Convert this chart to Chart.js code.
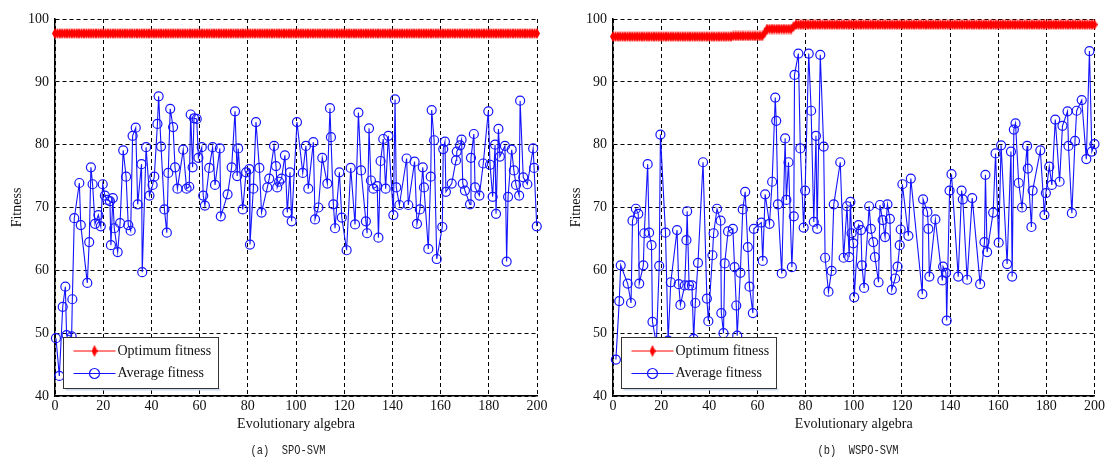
<!DOCTYPE html>
<html><head><meta charset="utf-8">
<script src="https://cdn.jsdelivr.net/npm/chart.js@4.4.0/dist/chart.umd.min.js"></script>
<style>
html,body{margin:0;padding:0;background:#fff;}
#wrap{position:relative;width:1107px;height:457px;overflow:hidden;background:#fff;}
canvas{position:absolute;top:0;}
.cap{position:absolute;top:442px;font-family:"Liberation Mono",monospace;font-size:13px;line-height:17px;white-space:pre;color:#222;transform:translateX(-50%) scaleX(0.8);}
</style></head><body>
<div id="wrap">
<canvas id="cA" width="550" height="457" style="left:0"></canvas>
<canvas id="cB" width="552" height="457" style="left:555px"></canvas>
<div class="cap" style="left:288px">(a)  SPO-SVM</div>
<div class="cap" style="left:858px">(b)  WSPO-SVM</div>
</div>
<script>
// ---- chart (a) SPO-SVM ----
const gensA = [0.4,1.8,3.2,4.3,4.8,6.9,7.2,8.0,10.1,10.7,13.4,14.2,14.9,15.6,16.6,18.0,19.0,19.8,20.7,21.7,
22.8,23.2,24.0,24.6,26.0,27.0,28.3,29.5,30.4,31.4,32.2,33.5,34.3,35.9,36.2,37.8,39.2,40.5,41.2,42.5,
43.0,44.0,45.4,46.4,47.0,47.8,49.0,49.8,50.8,53.2,54.6,55.7,56.3,57.1,57.7,58.8,59.5,60.9,61.5,62.2,
64.0,65.4,66.4,68.4,68.8,71.6,73.3,74.7,75.6,76.0,77.9,79.3,80.6,80.9,82.3,83.4,84.8,85.7,88.1,88.9,
90.9,91.7,92.2,93.0,94.0,95.4,96.4,97.5,98.2,100.4,102.8,104.1,105.1,107.2,107.9,109.3,110.9,113.0,114.1,114.5,
115.5,116.2,118.0,119.0,121.0,122.7,124.5,125.9,127.0,129.0,129.5,130.3,131.1,132.1,133.7,134.2,135.1,136.2,137.2,138.3,
140.4,141.1,141.6,142.9,145.9,146.6,149.2,150.2,151.4,152.6,153.1,154.9,155.9,156.3,157.3,158.4,160.7,161.1,161.8,162.2,
164.6,166.4,166.7,168.1,168.7,169.2,170.1,172.2,172.6,173.8,174.3,176.1,177.7,179.8,180.5,181.6,182.6,183.0,184.0,184.6,
186.7,187.4,188.0,189.5,190.4,191.3,192.6,193.0,194.3,196.0,198.4,198.8,199.9];
const avgA = [49.2,43.2,54.2,57.4,49.7,49.5,55.4,68.3,73.9,67.2,58.0,64.5,76.4,73.7,67.4,68.8,67.0,73.7,71.9,71.2,
71.0,64.0,71.5,66.7,62.9,67.5,79.1,74.9,67.2,66.3,81.4,82.7,70.5,76.9,59.7,79.6,71.9,73.6,74.9,83.3,
87.7,79.7,69.7,66.0,75.5,85.7,82.8,76.4,73.0,79.2,73.0,73.3,84.8,76.4,84.2,84.1,77.9,79.6,71.9,70.3,
76.3,79.6,73.6,79.4,68.6,72.1,76.4,85.3,75.0,79.4,69.7,75.6,76.1,64.1,73.0,83.6,76.3,69.2,73.2,74.6,
79.8,76.6,73.2,74.1,74.6,78.3,69.2,75.6,67.8,83.6,75.5,79.8,73.0,80.4,68.1,70.0,77.9,73.8,85.8,81.2,
70.5,66.7,75.6,68.4,63.2,76.3,67.3,85.1,75.9,67.8,65.9,82.6,74.3,73.0,73.4,65.2,77.4,80.9,73.0,81.4,
68.8,87.2,73.2,70.4,77.8,70.4,77.3,67.4,69.7,76.4,73.2,63.4,74.9,85.5,80.7,61.8,66.9,79.3,80.5,72.5,
73.8,77.5,78.9,79.9,80.8,73.8,72.7,70.5,77.9,81.7,73.2,71.9,77.0,85.3,76.8,71.7,80.0,69.0,82.5,78.1,
79.8,61.4,71.7,79.2,75.9,73.6,71.9,87.0,74.8,73.7,79.4,76.3,67.0];
// optimum fitness, one value per generation 0..200
const optA = [
97.7,97.7,97.7,97.7,97.7,97.7,97.7,97.7,97.7,97.7,
97.7,97.7,97.7,97.7,97.7,97.7,97.7,97.7,97.7,97.7,
97.7,97.7,97.7,97.7,97.7,97.7,97.7,97.7,97.7,97.7,
97.7,97.7,97.7,97.7,97.7,97.7,97.7,97.7,97.7,97.7,
97.7,97.7,97.7,97.7,97.7,97.7,97.7,97.7,97.7,97.7,
97.7,97.7,97.7,97.7,97.7,97.7,97.7,97.7,97.7,97.7,
97.7,97.7,97.7,97.7,97.7,97.7,97.7,97.7,97.7,97.7,
97.7,97.7,97.7,97.7,97.7,97.7,97.7,97.7,97.7,97.7,
97.7,97.7,97.7,97.7,97.7,97.7,97.7,97.7,97.7,97.7,
97.7,97.7,97.7,97.7,97.7,97.7,97.7,97.7,97.7,97.7,
97.7,97.7,97.7,97.7,97.7,97.7,97.7,97.7,97.7,97.7,
97.7,97.7,97.7,97.7,97.7,97.7,97.7,97.7,97.7,97.7,
97.7,97.7,97.7,97.7,97.7,97.7,97.7,97.7,97.7,97.7,
97.7,97.7,97.7,97.7,97.7,97.7,97.7,97.7,97.7,97.7,
97.7,97.7,97.7,97.7,97.7,97.7,97.7,97.7,97.7,97.7,
97.7,97.7,97.7,97.7,97.7,97.7,97.7,97.7,97.7,97.7,
97.7,97.7,97.7,97.7,97.7,97.7,97.7,97.7,97.7,97.7,
97.7,97.7,97.7,97.7,97.7,97.7,97.7,97.7,97.7,97.7,
97.7,97.7,97.7,97.7,97.7,97.7,97.7,97.7,97.7,97.7,
97.7,97.7,97.7,97.7,97.7,97.7,97.7,97.7,97.7,97.7,
97.7];

// ---- chart (b) WSPO-SVM ----
const gensB = [1.2,2.6,3.2,6.1,7.5,8.1,9.5,10.5,10.9,12.6,13.0,14.4,15.0,16.0,16.4,18.0,19.2,19.7,21.8,22.9,
24.0,26.6,27.3,28.0,29.8,30.5,30.8,31.6,32.8,33.5,34.2,35.3,37.4,39.0,39.6,41.3,41.8,43.2,44.7,45.0,
45.9,46.4,47.8,49.8,50.5,51.2,51.6,52.9,53.9,54.9,56.0,56.7,58.1,58.5,61.6,62.2,63.2,65.0,66.1,67.4,
67.8,68.5,70.1,71.5,72.0,72.9,74.3,75.1,75.4,77.0,77.8,79.2,79.8,81.3,82.3,83.4,84.3,84.8,86.1,87.5,
88.1,89.5,90.8,91.7,94.4,95.8,97.2,98.1,98.6,99.1,99.8,100.2,102.0,103.0,103.4,104.3,106.4,107.1,108.1,108.8,
110.3,110.9,112.0,113.0,114.0,115.0,115.8,117.2,118.2,119.1,119.5,120.2,122.7,123.7,128.5,128.8,130.6,131.0,131.4,133.9,
136.8,137.1,138.3,138.6,139.8,140.6,143.4,144.8,145.3,147.1,149.2,152.5,154.3,154.7,155.4,157.9,158.9,160.2,161.2,163.7,
165.3,165.8,166.5,167.2,168.5,169.9,172.0,172.3,173.8,174.3,177.5,179.2,179.8,181.2,182.3,183.7,185.5,186.7,188.8,189.2,
190.6,191.9,192.6,194.7,196.6,197.9,198.9,200.0];
const avgB = [45.8,55.1,60.8,57.9,54.8,67.9,69.8,69.0,57.9,60.8,65.9,76.9,66.0,64.0,51.8,48.3,60.7,81.6,66.0,48.8,
58.1,66.4,57.8,54.5,57.6,64.8,69.4,57.6,57.6,49.1,54.8,61.2,77.2,55.5,51.9,62.4,65.9,69.8,67.9,53.2,
50.0,61.1,66.2,66.6,60.5,54.4,49.6,59.6,69.7,72.5,63.7,57.4,53.2,66.6,67.6,61.5,72.1,67.4,74.1,87.5,
83.8,70.5,59.5,81.0,71.2,77.2,60.5,68.6,91.1,94.5,79.4,66.8,72.7,94.5,85.4,67.7,81.4,66.6,94.3,79.7,
62.0,56.6,59.9,70.5,77.2,62.0,70.2,62.1,70.9,65.9,64.3,55.7,67.2,66.4,60.8,57.2,70.2,66.6,64.5,62.1,
58.1,70.4,68.0,65.3,70.5,68.2,56.9,58.7,60.6,64.0,66.5,73.7,65.5,74.6,56.2,71.3,69.3,66.6,59.0,68.1,
58.4,60.6,59.6,52.0,72.7,75.3,59.0,72.7,71.3,58.5,71.5,57.8,64.5,75.2,62.9,69.2,78.6,64.4,79.9,61.0,
78.9,59.0,82.4,83.4,73.9,70.0,79.8,76.2,66.9,72.7,79.1,68.8,72.3,76.5,73.6,84.0,74.1,83.0,85.3,79.8,
69.1,80.6,85.4,87.1,77.7,94.9,78.9,80.1];
const optB = [
97.2,97.2,97.2,97.2,97.2,97.2,97.2,97.2,97.2,97.2,
97.2,97.2,97.2,97.2,97.2,97.2,97.2,97.2,97.2,97.2,
97.2,97.2,97.2,97.2,97.2,97.2,97.2,97.2,97.2,97.2,
97.2,97.2,97.2,97.2,97.2,97.2,97.2,97.2,97.2,97.2,
97.2,97.2,97.2,97.2,97.2,97.2,97.2,97.2,97.2,97.2,
97.3,97.3,97.3,97.3,97.3,97.3,97.3,97.3,97.3,97.3,
97.3,97.3,97.3,97.8,98.4,98.4,98.4,98.4,98.4,98.4,
98.4,98.4,98.4,98.4,98.4,98.8,99.1,99.1,99.1,99.1,
99.1,99.1,99.1,99.1,99.1,99.1,99.1,99.1,99.1,99.1,
99.1,99.1,99.1,99.1,99.1,99.1,99.1,99.1,99.1,99.1,
99.1,99.1,99.1,99.1,99.1,99.1,99.1,99.1,99.1,99.1,
99.1,99.1,99.1,99.1,99.1,99.1,99.1,99.1,99.1,99.1,
99.1,99.1,99.1,99.1,99.1,99.1,99.1,99.1,99.1,99.1,
99.1,99.1,99.1,99.1,99.1,99.1,99.1,99.1,99.1,99.1,
99.1,99.1,99.1,99.1,99.1,99.1,99.1,99.1,99.1,99.1,
99.1,99.1,99.1,99.1,99.1,99.1,99.1,99.1,99.1,99.1,
99.1,99.1,99.1,99.1,99.1,99.1,99.1,99.1,99.1,99.1,
99.1,99.1,99.1,99.1,99.1,99.1,99.1,99.1,99.1,99.1,
99.1,99.1,99.1,99.1,99.1,99.1,99.1,99.1,99.1,99.1,
99.1,99.1,99.1,99.1,99.1,99.1,99.1,99.1,99.1,99.1,
99.1];

const xTicksTitle = 'Evolutionary algebra';
const yTitle = 'Fitness';
const seriesNames = ['Optimum fitness', 'Average fitness'];

const RED = '#ff0000', BLUE = '#1414ff';
const SERIF = '"Liberation Serif", "Times New Roman", serif';

// narrow red diamond marker
function makeDiamond(w, h) {
  const c = document.createElement('canvas');
  c.width = w; c.height = h;
  const g = c.getContext('2d');
  g.fillStyle = RED;
  g.beginPath();
  g.moveTo(w/2, 0); g.lineTo(w, h/2); g.lineTo(w/2, h); g.lineTo(0, h/2); g.closePath();
  g.fill();
  return c;
}
const diamond = makeDiamond(6, 11);

const legendPlugin = {
  id: 'boxLegend',
  afterDatasetsDraw(chart) {
    const ctx = chart.ctx;
    const bx = Math.round(chart.chartArea.left + 8) + 0.5, by = 337.5, bw = 155, bh = 51;
    ctx.save();
    ctx.fillStyle = '#cfdcf2';
    ctx.fillRect(bx + 2, by + bh, bw, 2);
    ctx.fillStyle = '#fff';
    ctx.fillRect(bx, by, bw, bh);
    ctx.strokeStyle = '#333';
    ctx.lineWidth = 1;
    ctx.strokeRect(bx, by, bw, bh);
    // entry 1
    let y = by + 13.5;
    ctx.strokeStyle = RED; ctx.lineWidth = 1.2;
    ctx.beginPath(); ctx.moveTo(bx + 10, y); ctx.lineTo(bx + 52, y); ctx.stroke();
    ctx.drawImage(diamond, bx + 31 - 3, y - 6, 6, 12);
    // entry 2
    let y2 = by + 36;
    ctx.strokeStyle = BLUE; ctx.lineWidth = 1.2;
    ctx.beginPath(); ctx.moveTo(bx + 10, y2); ctx.lineTo(bx + 52, y2); ctx.stroke();
    ctx.beginPath(); ctx.arc(bx + 31, y2, 5, 0, Math.PI * 2); ctx.stroke();
    ctx.fillStyle = '#111';
    ctx.font = '14px ' + SERIF;
    ctx.textBaseline = 'middle';
    ctx.textAlign = 'left';
    ctx.fillText(seriesNames[0], bx + 54, y);
    ctx.fillText(seriesNames[1], bx + 54, y2);
    ctx.restore();
  }
};

function makeChart(id, gens, avg, opt, yAxisW, rightPad, yTitlePad) {
  const tickFont = {family: SERIF, size: 14};
  const gridCfg = {color: '#000', lineWidth: 1, drawTicks: false};
  const borderCfg = {display: true, color: '#000', width: 1.5, dash: [4, 3]};
  return new Chart(document.getElementById(id), {
    type: 'line',
    data: {
      datasets: [
        {
          label: seriesNames[0],
          data: opt.map((v, i) => ({x: i, y: v})),
          borderColor: RED, borderWidth: 1, backgroundColor: RED,
          pointStyle: diamond, pointRadius: 5, pointBorderWidth: 0,
          tension: 0, fill: false, clip: 12
        },
        {
          label: seriesNames[1],
          data: gens.map((g, i) => ({x: g, y: avg[i]})),
          borderColor: BLUE, borderWidth: 1.1, backgroundColor: 'rgba(0,0,0,0)',
          pointStyle: 'circle', pointRadius: 4.5, pointBorderWidth: 1.2,
          pointBorderColor: BLUE, pointBackgroundColor: 'rgba(0,0,0,0)',
          tension: 0, fill: false, clip: 12
        }
      ]
    },
    options: {
      responsive: false, animation: false, devicePixelRatio: 1,
      layout: {padding: {top: 19, right: rightPad, left: 0, bottom: 0}},
      plugins: {legend: {display: false}, tooltip: {enabled: false}},
      events: [],
      scales: {
        x: {
          type: 'linear', min: 0, max: 200,
          afterFit: (s) => { s.height = 61; },
          ticks: {stepSize: 20, padding: 2, color: '#111', font: tickFont, maxRotation: 0, autoSkip: false},
          grid: gridCfg, border: borderCfg,
          title: {display: true, text: xTicksTitle, color: '#111', font: tickFont, padding: {top: 0, bottom: 24}}
        },
        y: {
          type: 'linear', min: 40, max: 100,
          afterFit: (s) => { s.width = yAxisW; },
          ticks: {stepSize: 10, padding: 6, color: '#111', font: tickFont},
          grid: gridCfg, border: borderCfg,
          title: {display: true, text: yTitle, color: '#111', font: tickFont, padding: {top: yTitlePad, bottom: 0}}
        }
      }
    },
    plugins: [legendPlugin]
  });
}

makeChart('cA', gensA, avgA, optA, 55, 13, 8.5);
makeChart('cB', gensB, avgB, optB, 58, 11, 12.5);
</script>
</body></html>
